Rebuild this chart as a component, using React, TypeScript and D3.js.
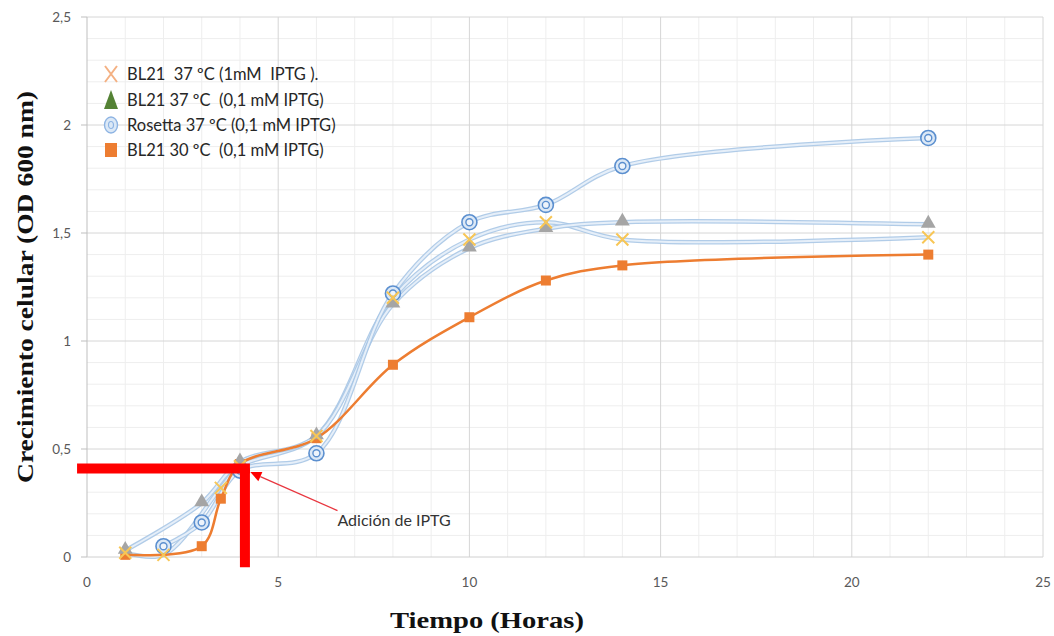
import React, { useEffect, useRef } from 'react';
import * as d3 from 'd3';

// Series data (x = hours, y = OD 600 nm)
const hours1mM = [1, 2, 3.5, 4, 6, 8, 10, 12, 14, 22];
const od1mM = [0.02, 0.01, 0.32, 0.42, 0.56, 1.2, 1.47, 1.55, 1.47, 1.48];

const hoursBL37 = [1, 3, 4, 6, 8, 10, 12, 14, 22];
const odBL37 = [0.03, 0.25, 0.44, 0.56, 1.17, 1.43, 1.52, 1.55, 1.54];

const hoursRosetta = [2, 3, 4, 6, 8, 10, 12, 14, 22];
const odRosetta = [0.05, 0.16, 0.4, 0.48, 1.22, 1.55, 1.63, 1.81, 1.94];

const hoursBL30 = [1, 3, 3.5, 4, 6, 8, 10, 12, 14, 22];
const odBL30 = [0.01, 0.05, 0.27, 0.43, 0.55, 0.89, 1.11, 1.28, 1.35, 1.4];

const legendLabels = [
  'BL21  37 ºC (1mM  IPTG ).',
  'BL21 37 ºC  (0,1 mM IPTG)',
  'Rosetta 37 ºC (0,1 mM IPTG)',
  'BL21 30 ºC  (0,1 mM IPTG)',
];

const xTicks = [0, 5, 10, 15, 20, 25];
const yTicks = [0, 0.5, 1, 1.5, 2, 2.5];

// IPTG addition marker (data units)
const iptgX = 4.13;
const iptgY = 0.41;
const arrowFrom = [6.55, 0.215];
const arrowTo = [4.27, 0.393];

const W = 1054;
const H = 636;

const App = () => {
  const ref = useRef<SVGSVGElement>(null);

  useEffect(() => {
    const svg = d3.select(ref.current);
    svg.selectAll('*').remove();

    const x = d3.scaleLinear().domain([0, 25]).range([87, 1043]);
    const y = d3.scaleLinear().domain([0, 2.5]).range([557, 17]);

    const zip = (xs: number[], ys: number[]) => xs.map((v, i) => [v, ys[i]] as [number, number]);
    const s1 = zip(hours1mM, od1mM);
    const s2 = zip(hoursBL37, odBL37);
    const s3 = zip(hoursRosetta, odRosetta);
    const s4 = zip(hoursBL30, odBL30);

    // grid
    const grid = svg.append('g');
    grid.selectAll('.vminor')
      .data(d3.range(1, 26).filter(d => d % 5 !== 0))
      .join('line')
      .attr('x1', d => x(d)).attr('x2', d => x(d))
      .attr('y1', y(2.5)).attr('y2', y(0))
      .attr('stroke', '#eeeeee').attr('stroke-width', 1);
    grid.selectAll('.hminor')
      .data(d3.range(1, 25).filter(d => d % 5 !== 0).map(d => d / 10))
      .join('line')
      .attr('x1', x(0)).attr('x2', x(25))
      .attr('y1', d => y(d)).attr('y2', d => y(d))
      .attr('stroke', '#eeeeee').attr('stroke-width', 1);
    grid.selectAll('.vmajor')
      .data(xTicks.slice(1))
      .join('line')
      .attr('x1', d => x(d)).attr('x2', d => x(d))
      .attr('y1', y(2.5)).attr('y2', y(0))
      .attr('stroke', '#d6d6d6').attr('stroke-width', 1);
    grid.selectAll('.hmajor')
      .data(yTicks.slice(1))
      .join('line')
      .attr('x1', x(0)).attr('x2', x(25))
      .attr('y1', d => y(d)).attr('y2', d => y(d))
      .attr('stroke', '#d6d6d6').attr('stroke-width', 1);

    // axes
    svg.append('line')
      .attr('x1', x(0)).attr('x2', x(0)).attr('y1', y(2.5)).attr('y2', y(0))
      .attr('stroke', '#bfbfbf');
    svg.append('line')
      .attr('x1', x(0)).attr('x2', x(25)).attr('y1', y(0)).attr('y2', y(0))
      .attr('stroke', '#d0d0d0');
    svg.selectAll('.ytick')
      .data(yTicks)
      .join('line')
      .attr('x1', x(0) - 6).attr('x2', x(0))
      .attr('y1', d => y(d)).attr('y2', d => y(d))
      .attr('stroke', '#bfbfbf');

    const fmt = (d: number) => String(d).replace('.', ',');
    svg.selectAll('.ylab')
      .data(yTicks)
      .join('text')
      .attr('x', 71).attr('y', d => y(d) + 5)
      .attr('text-anchor', 'end')
      .attr('font-family', 'Lato, sans-serif').attr('font-size', 13.5)
      .attr('fill', '#595959')
      .text(fmt);
    svg.selectAll('.xlab')
      .data(xTicks)
      .join('text')
      .attr('x', d => x(d)).attr('y', 587)
      .attr('text-anchor', 'middle')
      .attr('font-family', 'Lato, sans-serif').attr('font-size', 13.5)
      .attr('fill', '#595959')
      .text(fmt);

    // axis titles
    svg.append('text')
      .attr('transform', `translate(33,${y(1.25)}) rotate(-90)`)
      .attr('text-anchor', 'middle')
      .attr('font-family', '"Liberation Serif", "Times New Roman", serif')
      .attr('font-weight', 'bold').attr('font-size', 23)
      .attr('textLength', 392).attr('lengthAdjust', 'spacingAndGlyphs')
      .attr('fill', '#111')
      .text('Crecimiento celular (OD 600 nm)');
    svg.append('text')
      .attr('x', 487).attr('y', 628)
      .attr('text-anchor', 'middle')
      .attr('font-family', '"Liberation Serif", "Times New Roman", serif')
      .attr('font-weight', 'bold').attr('font-size', 24)
      .attr('textLength', 194).attr('lengthAdjust', 'spacingAndGlyphs')
      .attr('fill', '#111')
      .text('Tiempo (Horas)');

    // lines
    const line = d3.line<[number, number]>()
      .x(d => x(d[0])).y(d => y(d[1]))
      .curve(d3.curveCatmullRom.alpha(0.5));

    const lines = svg.append('g').attr('fill', 'none');
    [s1, s2, s3].forEach(s => {
      lines.append('path').attr('d', line(s)).attr('stroke', '#a9c6e6').attr('stroke-width', 4.5).attr('stroke-opacity', 0.9);
      lines.append('path').attr('d', line(s)).attr('stroke', '#e6eff9').attr('stroke-width', 2);
    });
    lines.append('path').attr('d', line(s4)).attr('stroke', '#ed7d31').attr('stroke-width', 2.5);

    // markers
    svg.append('g').selectAll('rect')
      .data(s4)
      .join('rect')
      .attr('x', d => x(d[0]) - 5).attr('y', d => y(d[1]) - 5)
      .attr('width', 10).attr('height', 10)
      .attr('fill', '#ed7d31');

    const circ = svg.append('g').selectAll('g')
      .data(s3)
      .join('g')
      .attr('transform', d => `translate(${x(d[0])},${y(d[1])})`);
    circ.append('circle').attr('r', 7.5).attr('fill', '#dbe8f6').attr('stroke', '#5b8fcf').attr('stroke-width', 1.6);
    circ.append('circle').attr('r', 3.5).attr('fill', '#eef4fb').attr('stroke', '#5b8fcf').attr('stroke-width', 1.4);

    const tri = d3.symbol().type(d3.symbolTriangle).size(95);
    svg.append('g').selectAll('path')
      .data(s2)
      .join('path')
      .attr('transform', d => `translate(${x(d[0])},${y(d[1]) - 1})`)
      .attr('d', tri())
      .attr('fill', '#a5a5a5');

    const cross = svg.append('g');
    s1.forEach(d => {
      const cx = x(d[0]), cy = y(d[1]);
      cross.append('path')
        .attr('d', `M${cx - 6},${cy - 6}L${cx + 6},${cy + 6}M${cx + 6},${cy - 6}L${cx - 6},${cy + 6}`)
        .attr('stroke', '#f8c655').attr('stroke-width', 2).attr('fill', 'none');
    });

    // IPTG annotation
    svg.append('line')
      .attr('x1', x(-0.26)).attr('x2', x(iptgX) + 5)
      .attr('y1', y(iptgY)).attr('y2', y(iptgY))
      .attr('stroke', '#ff0000').attr('stroke-width', 10);
    svg.append('line')
      .attr('x1', x(iptgX)).attr('x2', x(iptgX))
      .attr('y1', y(iptgY)).attr('y2', y(-0.047))
      .attr('stroke', '#ff0000').attr('stroke-width', 10);

    const ax1 = x(arrowFrom[0]), ay1 = y(arrowFrom[1]);
    const ax2 = x(arrowTo[0]), ay2 = y(arrowTo[1]);
    const ang = Math.atan2(ay2 - ay1, ax2 - ax1);
    const hl = 11, hw = 5;
    const bx = ax2 - hl * Math.cos(ang), by = ay2 - hl * Math.sin(ang);
    svg.append('line')
      .attr('x1', ax1).attr('y1', ay1).attr('x2', bx).attr('y2', by)
      .attr('stroke', '#e8363f').attr('stroke-width', 1.3);
    svg.append('path')
      .attr('d', `M${ax2},${ay2}L${bx + hw * Math.sin(ang)},${by - hw * Math.cos(ang)}L${bx - hw * Math.sin(ang)},${by + hw * Math.cos(ang)}Z`)
      .attr('fill', '#ff0000');
    svg.append('text')
      .attr('x', ax1).attr('y', ay1 + 15)
      .attr('font-family', 'Lato, sans-serif').attr('font-size', 16)
      .attr('fill', '#333')
      .text('Adición de IPTG');

    // legend
    const lg = svg.append('g').attr('transform', 'translate(111,0)');
    const rowsY = [74, 100, 125, 150];
    const tx = 16;
    const g0 = lg.append('g').attr('transform', `translate(0,${rowsY[0]})`);
    g0.append('path').attr('d', 'M-6,-8L6,8M6,-8L-6,8').attr('stroke', '#f4b183').attr('stroke-width', 2).attr('fill', 'none');
    const g1 = lg.append('g').attr('transform', `translate(0,${rowsY[1]})`);
    g1.append('path').attr('d', 'M0,-10L7,9L-7,9Z').attr('fill', '#548235');
    const g2 = lg.append('g').attr('transform', `translate(0,${rowsY[2]})`);
    g2.append('ellipse').attr('rx', 6.5).attr('ry', 8).attr('fill', '#dbe8f6').attr('stroke', '#8eb4e3').attr('stroke-width', 1.4);
    g2.append('ellipse').attr('rx', 2.5).attr('ry', 3.5).attr('fill', 'none').attr('stroke', '#8eb4e3').attr('stroke-width', 1.2);
    const g3 = lg.append('g').attr('transform', `translate(0,${rowsY[3]})`);
    g3.append('rect').attr('x', -6).attr('y', -7).attr('width', 12).attr('height', 14).attr('fill', '#ed7d31');

    lg.selectAll('text')
      .data(legendLabels)
      .join('text')
      .attr('x', tx).attr('y', (d, i) => rowsY[i] + 6)
      .attr('font-family', 'Lato, sans-serif').attr('font-size', 16.5)
      .attr('fill', '#262626')
      .style('white-space', 'pre')
      .text(d => d);
  }, []);

  return (
    <svg
      ref={ref}
      width={W}
      height={H}
      style={{ position: 'absolute', left: 0, top: 0, display: 'block', background: '#fff' }}
    />
  );
};

export default App;
